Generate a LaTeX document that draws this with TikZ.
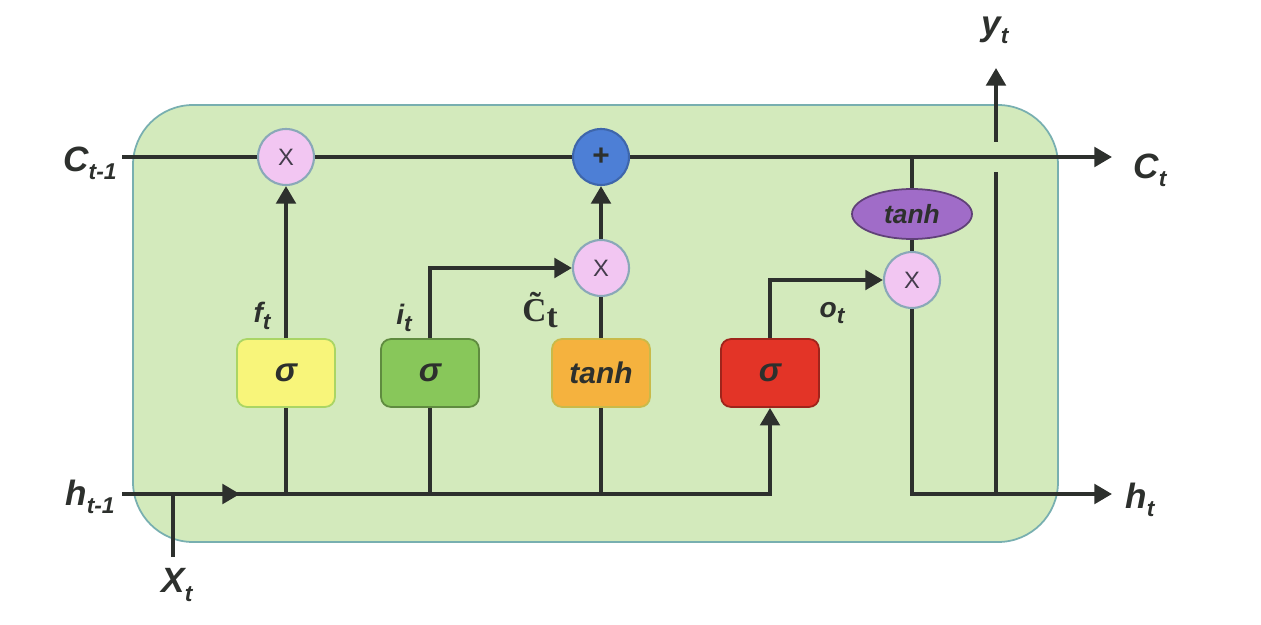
\documentclass[tikz,border=0pt]{standalone}
\usepackage{fontspec}
\newfontfamily\lstmfont{Liberation Sans}
\newfontfamily\lstmserif{Liberation Serif}
\usetikzlibrary{arrows.meta,shapes.geometric}
\definecolor{lstmCell}{HTML}{D3EABC}
\definecolor{lstmEdge}{HTML}{78AFB0}
\definecolor{lstmWire}{HTML}{2D302D}
\definecolor{lstmPink}{HTML}{F2C6F2}
\definecolor{lstmRing}{HTML}{8AA8B8}
\definecolor{lstmBlue}{HTML}{4D7FD6}
\definecolor{lstmYellow}{HTML}{F8F57A}
\definecolor{lstmGreen}{HTML}{88C75A}
\definecolor{lstmOrange}{HTML}{F5B23E}
\definecolor{lstmRed}{HTML}{E33427}
\definecolor{lstmPurple}{HTML}{A06CC8}
\newcommand{\lstmsub}[1]{\raisebox{-0.45ex}{\fontsize{13}{13}\selectfont #1}}
\tikzset{
  lstm cell/.style={draw=lstmEdge, fill=lstmCell, line width=1pt, rounded corners=1.2cm},
  lstm wire/.style={draw=lstmWire, line width=2.3pt},
  lstm arrow/.style={lstm wire, -{Triangle[length=10pt,width=11pt]}},
  lstm op/.style={circle, draw=lstmRing, fill=lstmPink, line width=1.2pt, minimum size=1.12cm, inner sep=0pt,
    font=\lstmfont\fontsize{13.5}{14}\selectfont, text=lstmWire!80!lstmPurple},
  lstm gate/.style={rectangle, rounded corners=0.2cm, line width=1pt, minimum width=1.96cm, minimum height=1.36cm,
    inner sep=0pt, font=\lstmfont\bfseries\itshape\fontsize{19}{20}\selectfont, text=lstmWire},
  lstm squash/.style={ellipse, draw=lstmPurple!60!black, fill=lstmPurple, line width=1pt, minimum width=2.4cm,
    minimum height=1cm, inner sep=0pt, font=\lstmfont\bfseries\itshape\fontsize{15}{16}\selectfont, text=lstmWire},
  lstm label/.style={font=\lstmfont\bfseries\itshape\fontsize{20}{22}\selectfont, text=lstmWire},
  lstm small label/.style={font=\lstmfont\bfseries\itshape\fontsize{16}{18}\selectfont, text=lstmWire},
}
\begin{document}
\begin{tikzpicture}[x=0.02cm,y=-0.02cm]
  \useasboundingbox (0,0) rectangle (1261,625);
  \draw[lstm cell] (133,105) rectangle (1058,542);

  % operators on the cell line
  \node[lstm op] (fx) at (286,157) {X};
  \node[lstm op, fill=lstmBlue, draw=lstmBlue!80!black, font=\lstmfont\bfseries\fontsize{17}{18}\selectfont, text=lstmWire] (ad) at (601,157) {+};
  \node[lstm op] (ix) at (601,268) {X};
  \node[lstm op] (ox) at (912,280) {X};
  \node[lstm squash] (th) at (912,214) {tanh};

  % gates
  \node[lstm gate, fill=lstmYellow, draw=lstmGreen!70!lstmYellow] (fg) at (286,373) {σ};
  \node[lstm gate, fill=lstmGreen, draw=lstmGreen!70!black] (ig) at (430,373) {σ};
  \node[lstm gate, fill=lstmOrange, draw=lstmOrange!60!lstmGreen, font=\lstmfont\bfseries\itshape\fontsize{17}{18}\selectfont] (cg) at (601,373) {tanh};
  \node[lstm gate, fill=lstmRed, draw=lstmRed!70!black] (og) at (770,373) {σ};

  % ends of the wires
  \coordinate (cin) at (122,157);
  \coordinate (cout) at (1112,157);
  \coordinate (hin) at (122,494);
  \coordinate (hmid) at (240,494);
  \coordinate (hout) at (1112,494);
  \coordinate (xin) at (173,557);
  \coordinate (ylo) at (996,172);
  \coordinate (yhi) at (996,142);
  \coordinate (yout) at (996,68);

  % cell state
  \draw[lstm wire] (cin) -- (fx);
  \draw[lstm wire] (fx) -- (ad);
  \draw[lstm arrow] (ad) -- (cout);
  \draw[lstm wire] (th |- cin) -- (th);
  \draw[lstm wire] (th) -- (ox);

  % hidden state and input
  \draw[lstm arrow] (hin) -- (og |- hin) -- (og.south);
  \draw[lstm arrow] (hin) -- (hmid);
  \draw[lstm wire] (xin) -- (xin |- hin);
  \draw[lstm wire] (fg.south) -- (fg |- hin);
  \draw[lstm wire] (ig.south) -- (ig |- hin);
  \draw[lstm wire] (cg.south) -- (cg |- hin);

  % gate outputs
  \draw[lstm arrow] (fg.north) -- (fx.south);
  \draw[lstm arrow] (ig.north) |- (ix.west);
  \draw[lstm wire] (cg.north) -- (ix.south);
  \draw[lstm arrow] (ix.north) -- (ad.south);
  \draw[lstm arrow] (og.north) |- (ox.west);

  % outputs
  \draw[lstm arrow] (ox.south) |- (hout);
  \draw[lstm wire] (ylo |- hout) -- (ylo);
  \draw[lstm arrow] (yhi) -- (yout);

  % labels
  \node[lstm label] (cinl) at (90,163) {C\lstmsub{t-1}};
  \node[lstm label] (coutl) at (1150,170) {C\lstmsub{t}};
  \node[lstm label] (hinl) at (90,497) {h\lstmsub{t-1}};
  \node[lstm label] (houtl) at (1140,500) {h\lstmsub{t}};
  \node[lstm label] (youtl) at (995,30) {y\lstmsub{t}};
  \node[lstm label] (xinl) at (177,585) {X\lstmsub{t}};
  \node[lstm small label] (fl) at (262,316) {f\lstmsub{t}};
  \node[lstm small label] (il) at (404,318) {i\lstmsub{t}};
  \node[font=\lstmserif\bfseries\fontsize{19}{20}\selectfont, text=lstmWire] (cl) at (540,310) {\~{C}\raisebox{-0.4ex}{t}};
  \node[lstm small label] (ol) at (832,313) {o\lstmsub{t}};
\end{tikzpicture}
\end{document}
